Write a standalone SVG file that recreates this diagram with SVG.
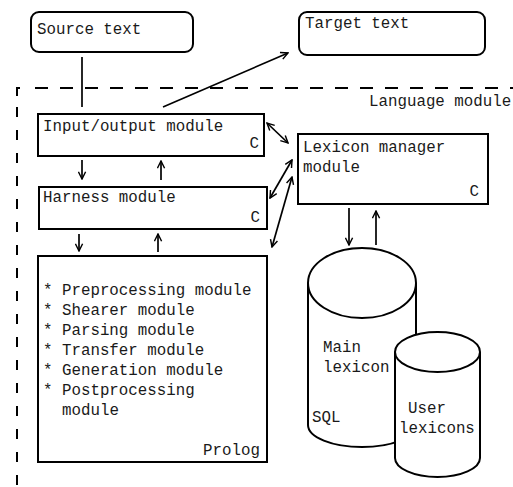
<svg xmlns="http://www.w3.org/2000/svg" width="513" height="487" viewBox="0 0 513 487">
<defs>
<style>
text{font-family:"Liberation Mono","Courier New",monospace;font-size:15.8px;fill:#1a1a1a}
.box{fill:#fff;stroke:#000;stroke-width:2}
.ln{stroke:#000;stroke-width:1.7;fill:none}
.dash{stroke:#000;stroke-width:2;fill:none}
.end{text-anchor:end}
</style>
<marker id="ah" viewBox="0 0 10 10" refX="9" refY="5" markerWidth="9" markerHeight="9" markerUnits="userSpaceOnUse" orient="auto-start-reverse">
<path d="M1,1 L9,5 L1,9" fill="none" stroke="#000" stroke-width="1.6"/>
</marker>
</defs>
<rect width="513" height="487" fill="#fff"/>
<g id="language-boundary">
<line class="dash" x1="35" y1="88" x2="513" y2="88" stroke-dasharray="13 12"/>
<path class="dash" d="M17,96 V88 H20"/>
<line class="dash" x1="17" y1="107" x2="17" y2="487" stroke-dasharray="10 13"/>
<text x="369" y="106">Language module</text>
</g>
<g id="connectors">
<line class="ln" x1="82" y1="57" x2="82" y2="107"/>
<line class="ln" x1="163" y1="107" x2="288" y2="53" marker-end="url(#ah)"/>
<line class="ln" x1="82" y1="160" x2="82" y2="179" marker-end="url(#ah)"/>
<line class="ln" x1="161" y1="180" x2="161" y2="161" marker-end="url(#ah)"/>
<line class="ln" x1="79" y1="234" x2="79" y2="251" marker-end="url(#ah)"/>
<line class="ln" x1="158" y1="252" x2="158" y2="234" marker-end="url(#ah)"/>
<line class="ln" x1="349" y1="208" x2="349" y2="245" marker-end="url(#ah)"/>
<line class="ln" x1="376" y1="245" x2="376" y2="211" marker-end="url(#ah)"/>
<line class="ln" x1="267" y1="123" x2="288" y2="143" marker-start="url(#ah)" marker-end="url(#ah)"/>
<line class="ln" x1="270" y1="198" x2="292" y2="160" marker-start="url(#ah)" marker-end="url(#ah)"/>
<line class="ln" x1="272" y1="247" x2="292" y2="177" marker-start="url(#ah)" marker-end="url(#ah)"/>
</g>
<g id="source-text">
<rect class="box" x="31" y="12" width="162" height="40" rx="8" ry="8"/>
<text x="37" y="34">Source text</text>
</g>
<g id="target-text">
<rect class="box" x="299" y="12" width="186" height="43" rx="8" ry="8"/>
<text x="305" y="28">Target text</text>
</g>
<g id="io-module">
<rect class="box" x="38" y="114" width="226" height="42"/>
<text x="43" y="131">Input/output module</text>
<text class="end" x="259" y="148">C</text>
</g>
<g id="harness-module">
<rect class="box" x="39" y="187" width="228" height="42"/>
<text x="43" y="202">Harness module</text>
<text class="end" x="260" y="222">C</text>
</g>
<g id="prolog-modules">
<rect class="box" x="38" y="256" width="229" height="206"/>
<text x="43" y="295">* Preprocessing module</text>
<text x="43" y="315">* Shearer module</text>
<text x="43" y="335">* Parsing module</text>
<text x="43" y="355">* Transfer module</text>
<text x="43" y="375">* Generation module</text>
<text x="43" y="395">* Postprocessing</text>
<text x="62" y="415">module</text>
<text class="end" x="260" y="455">Prolog</text>
</g>
<g id="lexicon-manager">
<rect class="box" x="298" y="134" width="190" height="70"/>
<text x="303" y="152">Lexicon manager</text>
<text x="303" y="172">module</text>
<text class="end" x="479" y="196">C</text>
</g>
<g id="main-lexicon">
<path class="box" d="M308,283 V425 A54,22 0 0 0 416,425 V283"/>
<ellipse class="box" cx="362" cy="283" rx="54" ry="35"/>
<text x="323" y="352">Main</text>
<text x="323" y="372">lexicon</text>
<text x="312" y="422">SQL</text>
</g>
<g id="user-lexicons">
<path class="box" d="M395,352 V458 A42.5,19 0 0 0 480,458 V352"/>
<ellipse class="box" cx="437.5" cy="352" rx="42.5" ry="20"/>
<text x="408" y="413">User</text>
<text x="399" y="433">lexicons</text>
</g>
</svg>
